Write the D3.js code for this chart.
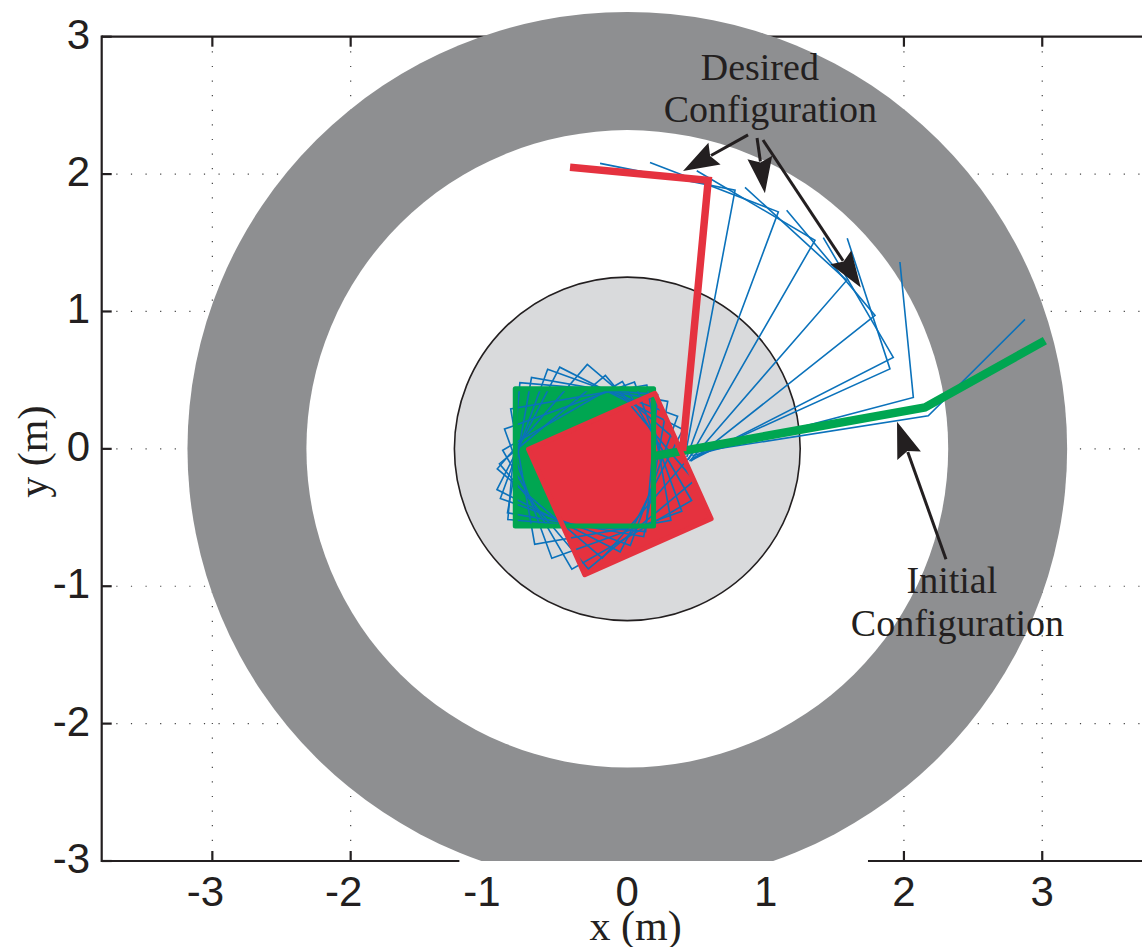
<!DOCTYPE html>
<html><head><meta charset="utf-8">
<script src="https://cdn.jsdelivr.net/npm/d3@7"></script>
<style>body{margin:0;background:#fff}svg{display:block}</style>
</head><body>
<svg id="c" width="1142" height="947"></svg>
<script>
// ---------- data ----------
const xTicks = [-3, -2, -1, 0, 1, 2, 3];
const yTicks = [-3, -2, -1, 0, 1, 2, 3];
const xDomain = [-3.8, 3.8];
const yDomain = [-3, 3];
const ringOuterR = 3.18, ringInnerR = 2.32, baseDiskR = 1.25;
const baseSide = 1.0;
// initial configuration (green): base [cx, cy, angleDeg], arm joints
const initialBase = [-0.31, -0.062, 0];
const initialArmX = [0.20, 2.152, 3.019];
const initialArmY = [-0.051, 0.301, 0.788];
// desired configuration (red)
const desiredBase = [-0.054, -0.256, 24];
const desiredArmX = [0.40, 0.585, -0.414];
const desiredArmY = [-0.015, 1.955, 2.05];
// intermediate frames (blue)
const frameBaseAngle = [-5, -10, -20, -27, -40.6, 40, 30, 20, 10];
const frameBaseX = [-0.322, -0.287, -0.277, -0.27, -0.235, -0.22, -0.218, -0.247, -0.264];
const frameBaseY = [-0.06, -0.06, -0.062, -0.078, -0.091, -0.17, -0.193, -0.155, -0.115];
const frameShoulderX = [0.46, 0.47, 0.47, 0.47, 0.46, 0.45, 0.44, 0.43, 0.42];
const frameShoulderY = [-0.03, -0.05, -0.07, -0.08, -0.09, -0.09, -0.08, -0.06, -0.04];
const frameElbowX = [2.176, 2.068, 1.899, 1.923, 1.791, 1.586, 1.357, 1.092, 0.779];
const frameElbowY = [0.241, 0.374, 0.582, 0.666, 0.971, 1.226, 1.518, 1.725, 1.883];
const frameTipX = [2.875, 1.971, 1.590, 1.417, 1.152, 0.851, 0.502, 0.164, -0.197];
const frameTipY = [0.942, 1.360, 1.533, 1.538, 1.737, 1.903, 2.024, 2.085, 2.078];
// annotations: arrows [x1,y1,x2(tip),y2(tip)] in data units
const desiredArrows = [[0.873, 2.285, 0.403, 2.022], [0.938, 2.263, 0.995, 1.861], [0.981, 2.248, 1.688, 1.175]];
const initialArrows = [[2.304, -0.803, 1.95, 0.197]];
const desiredLabel = ["Desired", "Configuration"];
const desiredLabelPos = [[0.958, 2.686], [1.034, 2.38]];
const initialLabel = ["Initial", "Configuration"];
const initialLabelPos = [[2.347, -1.051], [2.387, -1.365]];
const bottomAxisGap = [-1.214, 1.74];

// ---------- layout ----------
const svg = d3.select("#c");
const x = d3.scaleLinear().domain(xDomain).range([101.7, 1152.9]);
const y = d3.scaleLinear().domain(yDomain).range([861, 36.7]);
const ink = "#231f20";
const BLUE = "#0b72bb", GREEN = "#00a651", RED = "#e5323f";
const rx = r => x(r) - x(0), ry = r => y(0) - y(r);

// grid
const grid = svg.append("g").attr("stroke", "#444").attr("stroke-width", 1.2).attr("stroke-dasharray", "1.2,13.4");
grid.selectAll("line.v").data(xTicks).join("line")
  .attr("x1", d => x(d)).attr("x2", d => x(d)).attr("y1", y(3)).attr("y2", y(-3));
grid.selectAll("line.h").data(yTicks.filter(d => d > -3 && d < 3)).join("line")
  .attr("x1", x(-3.8)).attr("x2", x(3.8)).attr("y1", d => y(d)).attr("y2", d => y(d));

// axes frame
const ax = svg.append("g").attr("stroke", ink).attr("stroke-width", 2.2).attr("fill", "none");
ax.append("line").attr("x1", x(-3.8)).attr("x2", x(-3.8)).attr("y1", y(3) - 1.1).attr("y2", y(-3) + 1.1);
ax.append("line").attr("x1", x(-3.8)).attr("x2", x(3.8)).attr("y1", y(3)).attr("y2", y(3));
ax.append("line").attr("x1", x(-3.8)).attr("x2", x(bottomAxisGap[0])).attr("y1", y(-3)).attr("y2", y(-3));
ax.append("line").attr("x1", x(bottomAxisGap[1])).attr("x2", x(3.8)).attr("y1", y(-3)).attr("y2", y(-3));
const tl = 10;
ax.selectAll("line.tt").data(xTicks).join("line")
  .attr("x1", d => x(d)).attr("x2", d => x(d)).attr("y1", y(3)).attr("y2", y(3) + tl);
ax.selectAll("line.tb").data(xTicks.filter(d => d < bottomAxisGap[0] || d > bottomAxisGap[1])).join("line")
  .attr("x1", d => x(d)).attr("x2", d => x(d)).attr("y1", y(-3)).attr("y2", y(-3) - tl);
ax.selectAll("line.tl").data(yTicks).join("line")
  .attr("x1", x(-3.8)).attr("x2", x(-3.8) + tl).attr("y1", d => y(d)).attr("y2", d => y(d));

// ring obstacle (clipped at bottom axis)
svg.append("clipPath").attr("id", "clipB").append("rect")
  .attr("x", 0).attr("y", 0).attr("width", 1142).attr("height", y(-3));
const ring = svg.append("g").attr("clip-path", "url(#clipB)");
ring.append("ellipse").attr("cx", x(0)).attr("cy", y(0)).attr("rx", rx(ringOuterR)).attr("ry", ry(ringOuterR)).attr("fill", "#8e8f91");
ring.append("ellipse").attr("cx", x(0)).attr("cy", y(0)).attr("rx", rx(ringInnerR)).attr("ry", ry(ringInnerR)).attr("fill", "#fff");
svg.append("ellipse").attr("cx", x(0)).attr("cy", y(0)).attr("rx", rx(baseDiskR)).attr("ry", ry(baseDiskR))
  .attr("fill", "#d9dadc").attr("stroke", ink).attr("stroke-width", 1.6);

// helpers
function squarePts(cx, cy, angDeg) {
  const a = angDeg * Math.PI / 180, h = baseSide / 2;
  return [[h, h], [-h, h], [-h, -h], [h, -h]].map(([u, v]) =>
    [x(cx + u * Math.cos(a) - v * Math.sin(a)), y(cy + u * Math.sin(a) + v * Math.cos(a))]);
}
const poly = pts => "M" + pts.map(p => p.join(",")).join("L") + "Z";
const line = d3.line().x(d => x(d[0])).y(d => y(d[1]));

// fills
svg.append("path").attr("d", poly(squarePts(...initialBase))).attr("fill", GREEN);
svg.append("path").attr("d", poly(squarePts(...desiredBase))).attr("fill", RED);

// blue intermediate frames
const blue = svg.append("g").attr("fill", "none").attr("stroke", BLUE).attr("stroke-width", 1.6).attr("stroke-linejoin", "miter");
blue.selectAll("path.sq").data(frameBaseX).join("path")
  .attr("d", (d, i) => poly(squarePts(frameBaseX[i], frameBaseY[i], frameBaseAngle[i])));
blue.selectAll("path.arm").data(frameElbowX).join("path")
  .attr("d", (d, i) => line([[frameShoulderX[i], frameShoulderY[i]], [frameElbowX[i], frameElbowY[i]], [frameTipX[i], frameTipY[i]]]));

// green outline + arm
svg.append("path").attr("d", poly(squarePts(...initialBase))).attr("fill", "none").attr("stroke", GREEN)
  .attr("stroke-width", 5).attr("stroke-linejoin", "round");
svg.append("path").attr("d", line(initialArmX.map((v, i) => [v, initialArmY[i]]))).attr("fill", "none")
  .attr("stroke", GREEN).attr("stroke-width", 8.5).attr("stroke-linejoin", "miter");
// red outline + arm
svg.append("path").attr("d", poly(squarePts(...desiredBase))).attr("fill", "none").attr("stroke", RED)
  .attr("stroke-width", 5).attr("stroke-linejoin", "round");
svg.append("path").attr("d", line(desiredArmX.map((v, i) => [v, desiredArmY[i]]))).attr("fill", "none")
  .attr("stroke", RED).attr("stroke-width", 7.5).attr("stroke-linejoin", "miter");

// annotation arrows
function arrow(g, a) {
  const x1 = x(a[0]), y1 = y(a[1]), x2 = x(a[2]), y2 = y(a[3]);
  const dx = x2 - x1, dy = y2 - y1, L = Math.hypot(dx, dy), ux = dx / L, uy = dy / L;
  const hl = 36, hw = 12.5;
  const bx = x2 - ux * hl, by = y2 - uy * hl;
  g.append("line").attr("x1", x1).attr("y1", y1).attr("x2", bx + ux * 4).attr("y2", by + uy * 4)
    .attr("stroke", ink).attr("stroke-width", 3);
  g.append("path").attr("d", `M${x2},${y2}L${bx - uy * hw},${by + ux * hw}L${bx + ux * 5},${by + uy * 5}L${bx + uy * hw},${by - ux * hw}Z`)
    .attr("fill", ink);
}
const ann = svg.append("g");
desiredArrows.forEach(a => arrow(ann, a));
initialArrows.forEach(a => arrow(ann, a));
const serif = "'Liberation Serif','Times New Roman',serif";
ann.selectAll("text.d").data(desiredLabel).join("text")
  .attr("x", (d, i) => x(desiredLabelPos[i][0])).attr("y", (d, i) => y(desiredLabelPos[i][1]))
  .attr("text-anchor", "middle").attr("font-family", serif).attr("font-size", 38).attr("fill", ink).text(d => d);
ann.selectAll("text.i").data(initialLabel).join("text")
  .attr("x", (d, i) => x(initialLabelPos[i][0])).attr("y", (d, i) => y(initialLabelPos[i][1]))
  .attr("text-anchor", "middle").attr("font-family", serif).attr("font-size", 38).attr("fill", ink).text(d => d);

// tick labels
const sans = "'Liberation Sans',Arial,Helvetica,sans-serif";
const lab = svg.append("g").attr("font-family", sans).attr("font-size", 42).attr("fill", ink);
lab.selectAll("text.x").data(xTicks).join("text")
  .attr("x", d => x(d) - (d < 0 ? 7 : 0)).attr("y", y(-3) + 45).attr("text-anchor", "middle").text(d => d);
lab.selectAll("text.y").data(yTicks).join("text")
  .attr("x", 90).attr("y", d => y(d) + 12).attr("text-anchor", "end").text(d => d);

// axis titles
svg.append("text").attr("x", x(0.06)).attr("y", 940).attr("text-anchor", "middle")
  .attr("font-family", serif).attr("font-size", 42).attr("fill", ink).text("x (m)");
svg.append("text").attr("transform", `translate(47,${y(-0.02)}) rotate(-90)`).attr("text-anchor", "middle")
  .attr("font-family", serif).attr("font-size", 42).attr("fill", ink).text("y (m)");
</script>
</body></html>
